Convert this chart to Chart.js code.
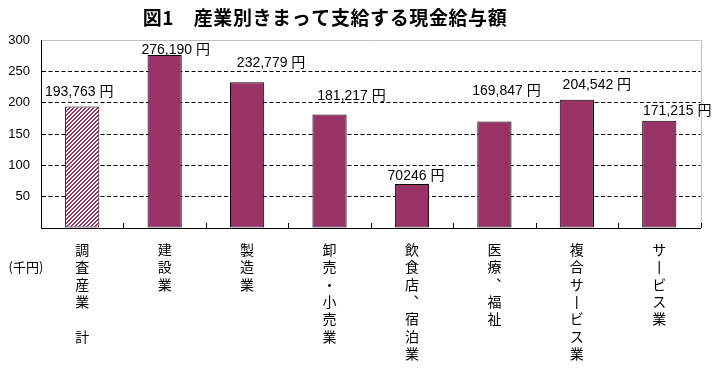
<!DOCTYPE html>
<html>
<head>
<meta charset="utf-8">
<script src="https://cdn.jsdelivr.net/npm/chart.js@4"></script>
<style>
  body { margin: 0; background: #fff; }
</style>
</head>
<body>
<canvas id="chart" width="719" height="372"></canvas>
<script>
// data
const industries = ['調査産業　計', '建設業', '製造業', '卸売・小売業', '飲食店、宿泊業', '医療、福祉', '複合サービス業', 'サービス業'];
const wageYen = [193763, 276190, 232779, 181217, 70246, 169847, 204542, 171215];
const wageLabels = ['193,763 円', '276,190 円', '232,779 円', '181,217 円', '70246 円', '169,847 円', '204,542 円', '171,215 円'];
const yTicks = [0, 50, 100, 150, 200, 250, 300];

// label placement (px, relative to bar top centre)
const labelDx = [-3, 11, 24, 22, 4, 12, 20, 18];
const labelDy = [-14, -5, -19, -18, -8, -30, -15, -10];

const PLUM = '#993366';
const JP = '"Noto Sans CJK JP", sans-serif';
const NUM = '"Liberation Sans", "Noto Sans CJK JP", sans-serif';

// hatched fill for the first bar
function makeHatch() {
  const c = document.createElement('canvas');
  c.width = 4; c.height = 4;
  const g = c.getContext('2d');
  g.fillStyle = '#fff';
  g.fillRect(0, 0, 4, 4);
  g.fillStyle = PLUM;
  for (let x = 0; x < 4; x++) {
    for (let y = 0; y < 4; y++) {
      if ((x + y) % 4 < 2) g.fillRect(x, y, 1, 1);
    }
  }
  return g.createPattern(c, 'repeat');
}
const hatch = makeHatch();

// vertical writing: one character per line, long vowel mark and comma in vertical form
function verticalLabel(s) {
  return Array.from(s).map(ch => {
    const code = ch.charCodeAt(0);
    if (code === 0x30FC) return '\u4E28';
    if (code === 0x3001) return '\uFE11';
    return ch;
  });
}

const extras = {
  id: 'extras',
  afterDraw(chart) {
    const ctx = chart.ctx;
    const area = chart.chartArea;
    const meta = chart.getDatasetMeta(0);
    ctx.save();

    // right border
    ctx.strokeStyle = '#c0c0c0';
    ctx.lineWidth = 1;
    ctx.beginPath();
    ctx.moveTo(Math.round(area.right) + 0.5, area.top);
    ctx.lineTo(Math.round(area.right) + 0.5, area.bottom);
    ctx.stroke();

    // inward tick marks at category boundaries
    ctx.strokeStyle = '#000';
    const step = (area.right - area.left) / industries.length;
    for (let i = 1; i <= industries.length; i++) {
      const px = Math.round(area.left + step * i) + 0.5;
      ctx.beginPath();
      ctx.moveTo(px, area.bottom);
      ctx.lineTo(px, area.bottom - 5);
      ctx.stroke();
    }

    // value labels
    ctx.fillStyle = '#000';
    ctx.font = '14px ' + NUM;
    ctx.textAlign = 'center';
    ctx.textBaseline = 'middle';
    meta.data.forEach((bar, i) => {
      ctx.fillText(wageLabels[i], bar.x + labelDx[i], bar.y + labelDy[i]);
    });

    // title
    ctx.font = 'bold 19px ' + JP;
    ctx.letterSpacing = '0.6px';
    ctx.fillText('図1　産業別きまって支給する現金給与額', 325, 18);
    ctx.letterSpacing = '0px';

    // unit
    ctx.font = '13px ' + JP;
    ctx.fillText('(千円)', 26, 267);
    ctx.restore();
  }
};

new Chart(document.getElementById('chart'), {
  type: 'bar',
  data: {
    labels: industries.map(s => verticalLabel(s)),
    datasets: [{
      data: wageYen.map(v => v / 1000),
      backgroundColor: wageYen.map((v, i) => i === 0 ? hatch : PLUM),
      borderColor: '#000',
      borderWidth: 1,
      borderSkipped: false,
      barPercentage: 0.415,
      categoryPercentage: 1
    }]
  },
  options: {
    responsive: false,
    devicePixelRatio: 1,
    animation: false,
    layout: { padding: { top: 40, right: 18.5, left: 0, bottom: 0 } },
    plugins: {
      legend: { display: false },
      tooltip: { enabled: false }
    },
    scales: {
      x: {
        afterFit(s) { s.height = 144; },
        grid: { display: false, drawTicks: false },
        border: { display: true, color: '#000', width: 1 },
        ticks: {
          color: '#000',
          padding: 13,
          maxRotation: 0,
          autoSkip: false,
          font: { family: JP, size: 14, lineHeight: 1.24 }
        }
      },
      y: {
        min: 0,
        max: 300,
        afterFit(s) { s.width = 41; },
        afterBuildTicks(s) { s.ticks = yTicks.map(v => ({ value: v })); },
        grid: {
          drawTicks: false,
          color: c => c.tick.value === 300 ? '#c0c0c0' : (c.tick.value === 0 ? 'rgba(0,0,0,0)' : '#000')
        },
        border: {
          display: true,
          color: '#000',
          width: 1,
          dash: c => c.tick && c.tick.value === 300 ? [] : [4, 2.5]
        },
        ticks: {
          color: '#000',
          padding: 11,
          font: { family: NUM, size: 13 },
          callback: v => v === 0 ? '' : String(v)
        }
      }
    }
  },
  plugins: [extras]
});
</script>
</body>
</html>
